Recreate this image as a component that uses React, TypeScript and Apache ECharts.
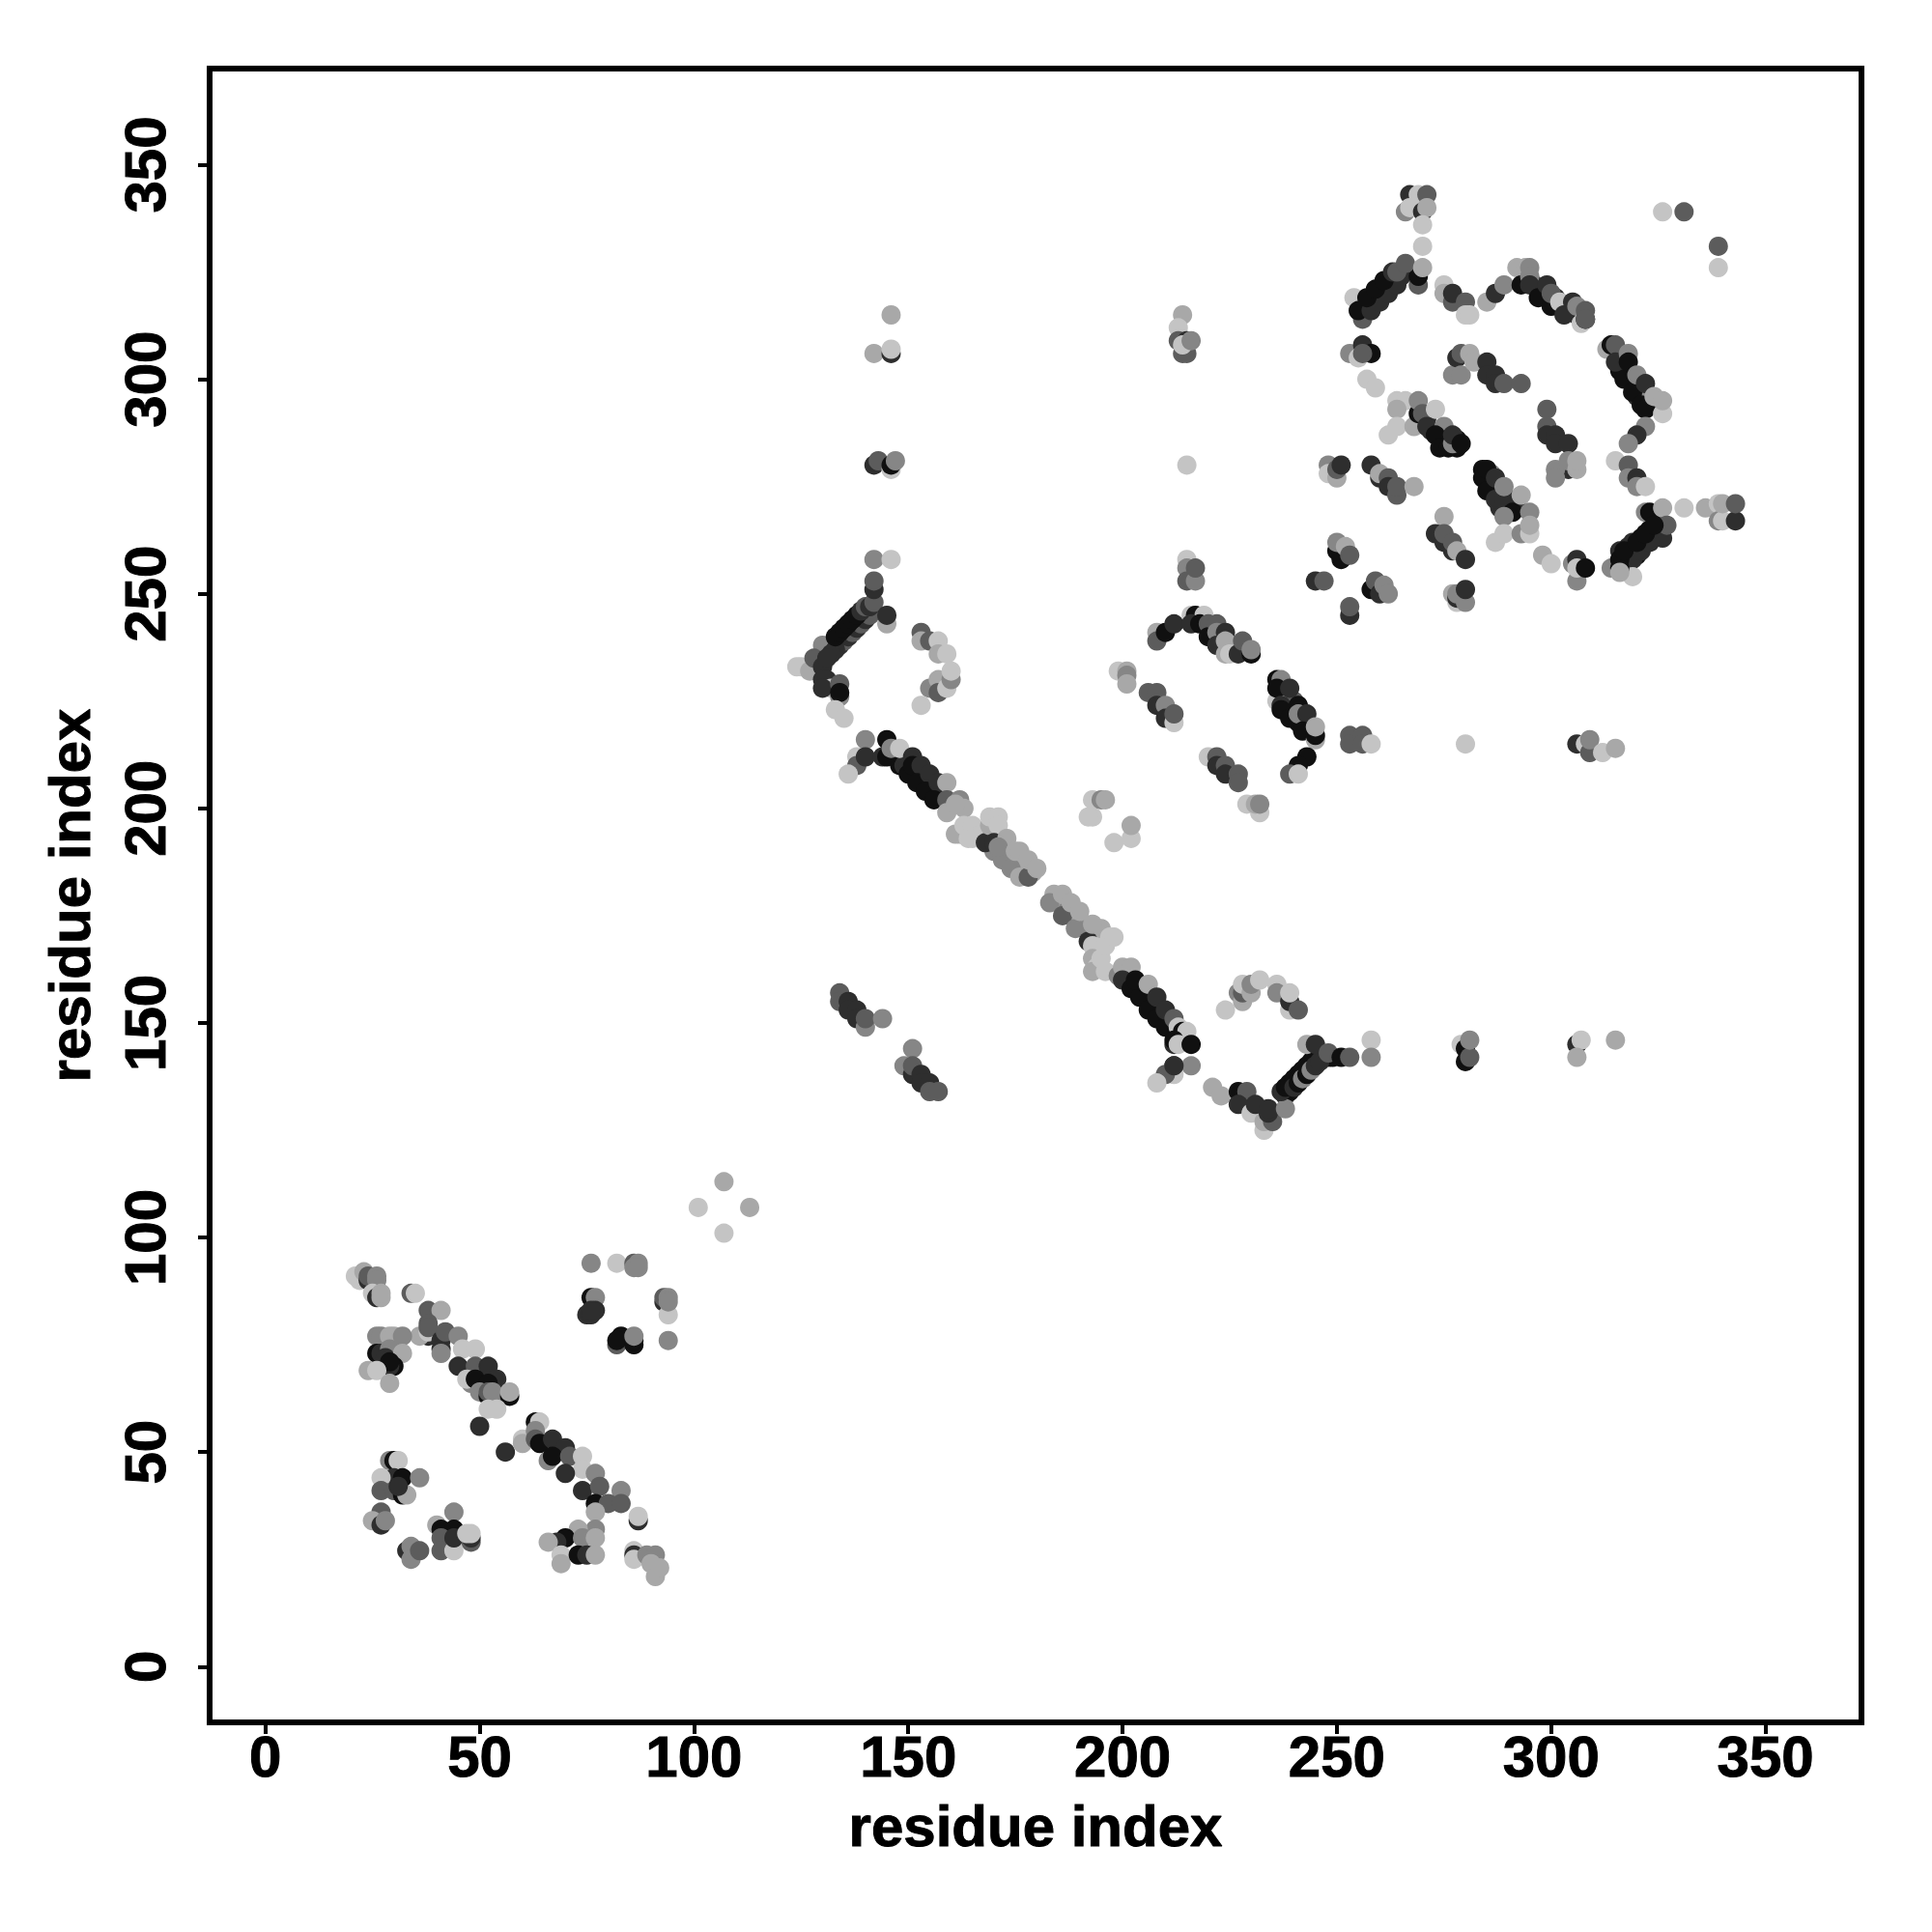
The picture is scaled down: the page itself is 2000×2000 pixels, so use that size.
import React, { useEffect, useRef } from "react";
import * as echarts from "echarts";

// tone codes of each contact: 0 darkest ... 5 lightest
const B = 0, K = 1, D = 2, G = 3, M = 4, L = 5;
const tones = ["#101010", "#2e2e2e", "#5c5c5c", "#868686", "#a8a8a8", "#c4c4c4"];
const tickLabels = [0, 50, 100, 150, 200, 250, 300, 350];
const axisTitle = "residue index";

type P = [number, number, number];

const bandFill: P[] = [
  [132,238,K],[133,239,B],[134,240,K],[135,241,B],[136,242,K],[137,243,B],[138,244,K],[139,245,B],[140,246,K],[141,246,B],[131,237,K],
  [294,324,K],[296,322,K],[298,320,K],[299,320,G],[301,319,K],[303,317,D],[304,316,B],[306,315,K],[307,315,B],
  [316,306,K],[316,302,B],[318,302,K],[318,300,K],[320,298,B],[320,296,K],[322,296,D],[323,294,K],[323,296,G],
  [147,212,K],[148,210,B],[149,210,K],[150,210,K],[152,208,K],[153,208,B],[154,206,K],[155,206,B],[156,204,K],[157,204,K],[158,203,B],
  [170,190,G],[172,188,G],[173,190,M],[174,188,M],[177,187,M],[179,185,M],
  [184,180,M],[185,178,M],[187,176,G],[188,175,G],[190,174,M],[191,172,M],[192,172,G],[194,171,L],[195,170,L],[195,172,M],
  [201,161,K],[203,158,K],[205,156,K],[205,158,K],[207,155,B],[209,153,K],[211,151,B],[207,154,D],[209,151,D],
  [238,133,K],[239,134,B],[240,136,B],[241,137,B],[242,138,B],[243,139,B],[244,140,B],[245,141,K],[246,143,K],[247,142,K],[248,142,K],[249,142,B],
  [238,226,K],[238,228,D],[240,222,K],[240,225,D],[242,220,B],[243,219,K],[244,218,K],
  [286,276,B],[286,274,K],[288,273,B],[288,270,K],[290,270,B],[290,272,K],[292,270,K],[284,279,B],[286,278,G],
  [318,259,B],[318,261,K],[319,262,K],[321,263,B],[323,265,B],[325,264,K],[320,259,B],[316,260,K],
  [271,291,K],[272,288,K],[274,287,K],[275,286,B],[276,286,K],[278,286,B],[278,284,B],
  [260,320,B],[262,322,B],[263,322,K],[265,324,K],[259,318,K],[261,320,K],[258,318,B],[256,316,B],[257,316,K],
];

const isolated: P[] = [
  [107,113,M],[101,107,L],[113,107,M],[107,101,L],
  [76,94,G],[82,94,L],[86,94,D],[87,94,G],[86,93,G],[87,93,G],
  [76,86,B],[77,86,G],[75,82,K],[77,83,K],[76,82,K],[76,83,K],
  [93,85,K],[93,86,D],[94,86,G],[94,82,L],[94,85,G],
  [82,75,D],[83,77,B],[82,76,B],[86,75,B],[86,76,B],[86,77,G],[94,76,G],
];

const lowerLeftTop: P[] = [
  [21,91,L],[22,90,L],[23,92,M],[24,90,K],[24,91,D],[26,91,G],[26,90,G],[25,87,L],[26,86,K],[27,86,M],[27,87,M],
  [34,87,D],[35,87,L],
];

const diagonalUpper: P[] = [
  [38,83,D],[41,83,M],[38,80,D],[38,77,K],[36,77,M],[38,78,L],[38,79,D],
  [41,76,K],[41,74,K],[42,78,D],[41,73,G],[45,77,G],[46,74,L],[49,74,L],
  [45,70,K],[49,70,D],[52,70,K],[48,66,G],[47,67,L],[49,67,B],[54,67,K],[52,66,B],[50,64,G],[52,63,B],[54,63,G],[52,64,D],[53,64,G],[57,63,B],[57,64,M],
  [52,60,L],[54,60,L],[50,56,K],[56,50,K],
];

const leftLadder: P[] = [
  [26,77,G],[27,77,G],[29,77,M],[30,77,M],[32,77,G],
  [26,73,B],[27,73,K],[29,74,G],[28,72,K],[32,73,M],[30,70,B],[29,70,K],[29,71,B],
  [24,69,M],[26,69,L],[29,66,M],
];

const lowerCluster: P[] = [
  [29,48,G],[30,48,B],[31,48,L],[30,44,K],[32,44,B],[27,44,L],[36,44,G],
  [27,41,D],[30,41,D],[32,40,B],[33,40,M],[31,42,K],
  [27,36,D],[25,34,M],[27,33,K],[28,34,G],
  [33,27,K],[34,28,G],[34,25,G],[36,27,D],
  [44,36,G],[40,33,M],[41,32,B],[44,32,B],[41,30,D],[41,27,D],[44,27,L],[44,30,K],[48,29,D],[48,30,K],[47,31,L],[48,31,L],
];

const diagonalLower: P[] = [
  [60,53,L],[60,52,M],[63,57,B],[64,57,L],[63,55,G],[63,53,D],[64,52,B],[67,53,K],[70,51,K],
  [66,48,G],[67,49,B],[71,49,D],[74,49,L],[74,46,L],[70,45,K],[77,45,G],[74,41,K],[78,42,D],[83,41,G],
  [77,38,B],[80,38,D],[83,38,D],[77,36,M],[87,34,K],[87,35,L],
  [77,32,G],[73,32,M],[70,30,B],[68,29,K],[66,29,M],[74,30,G],[77,30,M],
  [69,26,L],[69,24,M],[73,26,B],[75,26,K],[77,26,M],
  [86,27,L],[86,26,K],[86,25,L],[89,26,G],[91,26,G],[90,24,M],[91,21,M],[92,23,M],
];

const ladderA: P[] = [
  [130,238,G],[125,233,L],[124,233,L],[127,232,M],[128,235,D],[130,233,K],[130,230,K],[131,230,K],[132,228,L],[130,228,K],
  [134,229,D],[134,226,G],[134,227,B],[133,223,L],[135,221,L],
  [134,238,K],[135,239,D],[136,240,K],[137,241,D],[138,242,K],[139,243,D],[140,244,K],[141,245,D],
  [133,237,K],[132,236,K],[131,235,K],[133,240,B],[134,241,B],[135,242,B],[136,243,B],[137,244,B],[138,245,B],[139,246,K],[140,247,D],
  [141,247,K],[142,248,D],[142,251,K],[142,253,D],[145,243,M],[145,245,K],
  [142,258,G],[146,258,L],
  [153,241,D],[153,239,M],[155,239,D],[157,239,L],[157,236,M],[159,236,L],
  [155,228,G],[157,230,M],[157,227,D],[159,228,L],[160,230,G],[160,232,L],[153,224,L],
];

const columnA: P[] = [
  [146,315,M],[142,306,M],[146,306,K],[146,307,L],
  [142,280,K],[143,281,D],[146,279,L],[146,280,B],[147,281,G],
];

const beltLeft: P[] = [
  [140,216,G],[138,212,L],[138,210,D],[140,212,K],[136,208,L],
  [144,212,K],[145,216,B],[145,212,B],[146,214,G],[148,214,L],
  [150,208,B],[151,212,K],[151,210,B],[153,210,K],[152,206,B],[155,208,K],[154,204,B],[157,206,K],[156,202,B],[159,206,M],[159,202,D],[162,202,G],[159,199,M],[163,200,M],
];

const beltCentre: P[] = [
  [161,201,M],[162,194,M],[161,194,M],[163,196,L],[164,193,L],[165,196,L],[165,193,L],[167,194,L],
  [168,192,K],[169,196,M],[169,198,L],[171,198,L],[171,196,L],[170,192,K],[172,189,G],[173,193,M],
  [171,191,G],[174,186,G],[175,190,M],[176,184,M],[176,190,M],[178,184,D],[178,188,M],[180,186,M],
  [183,178,G],[186,175,D],[189,172,G],[186,180,M],[188,178,M],[190,176,M],[192,169,K],[193,173,M],[193,168,L],
  [193,165,M],[194,163,L],[193,162,M],[195,165,L],[196,162,L],[197,170,L],[196,168,L],[198,170,L],
];

const beltRight: P[] = [
  [199,161,G],[200,163,M],[202,163,M],[200,160,K],[202,158,B],[204,156,B],[206,153,B],[208,151,B],[210,149,B],
  [203,160,B],[206,159,M],[208,156,K],[210,153,K],[212,151,D],[213,149,L],[214,148,B],[215,148,L],
  [212,145,K],[212,146,B],[213,145,L],[216,145,B],
  [212,140,K],[216,140,G],[212,138,L],[210,138,D],[208,136,L],[212,140,K],
];

const upperIslands: P[] = [
  [193,198,L],[193,202,L],[195,202,G],[196,202,M],[192,198,L],[198,192,L],[202,193,L],[202,196,M],
  [199,232,L],[201,232,M],[201,231,G],[201,229,M],
  [134,157,D],[134,155,D],[136,155,K],[136,153,K],[138,153,K],[138,151,K],[140,149,G],[140,151,D],[144,151,G],
  [151,144,G],[149,140,G],[151,138,K],[151,140,D],[153,138,K],[153,136,K],[155,136,K],[155,134,D],[157,134,D],
];

const lowerArc: P[] = [
  [221,135,M],[223,133,M],[227,134,B],[229,134,D],[227,131,K],[230,129,L],[231,131,K],[233,125,L],[233,127,M],
  [235,127,D],[234,129,K],[234,130,K],[238,130,G],[237,134,K],
  [238,135,B],[239,136,B],[240,137,B],[241,138,B],[242,139,B],[243,140,B],[244,141,B],
  [240,135,K],[241,136,B],[242,137,G],[243,138,B],[244,139,G],[245,140,K],[246,141,K],
  [243,145,M],[245,145,K],[248,143,D],[251,142,B],[253,142,D],[258,146,L],[258,142,G],
  [224,153,L],[227,157,G],[228,155,M],[228,157,D],[228,159,L],[230,157,M],[230,159,G],[232,160,L],
  [236,159,L],[236,157,G],[239,153,L],[239,155,K],[239,157,L],[241,153,D],
];

const rowContacts: P[] = [
  [279,145,L],[280,141,B],[280,144,B],[281,142,D],[281,146,G],
  [306,145,K],[307,146,L],[306,142,M],[315,146,M],
  [253,217,D],[253,215,D],[256,217,D],[256,215,D],[258,215,L],[280,215,L],
  [306,215,K],[308,215,L],[309,213,D],[309,216,G],[312,213,L],[315,214,M],
];

const columnB: P[] = [
  [214,315,M],[213,312,L],[213,309,D],[214,306,D],[215,306,D],[215,309,K],[214,308,L],[216,309,G],[215,280,L],
  [215,258,L],[215,256,G],[215,253,D],[217,253,G],[217,256,D],
];

const blockThree: P[] = [
  [208,241,M],[208,239,D],[210,241,B],[212,243,K],
  [216,245,L],[217,245,B],[219,245,L],[216,243,K],[218,243,B],[220,243,D],[220,240,B],[222,243,D],[222,241,G],[222,238,K],
  [224,241,K],[224,239,M],[224,236,M],[225,236,L],[227,236,K],[228,239,D],[230,236,B],[230,237,G],
  [206,227,D],[208,227,D],[208,224,K],[210,224,G],[210,221,K],[212,220,L],[212,222,D],
  [220,212,L],[222,212,D],[222,210,K],[224,210,D],[224,208,K],[227,208,D],[227,206,D],
  [229,201,L],[232,199,L],[231,201,M],[232,201,G],
  [236,225,L],[236,230,B],[237,230,G],[236,228,B],[237,224,K],[237,223,B],[239,228,K],[239,221,B],[241,224,B],[241,220,B],[241,222,G],[243,222,K],
  [242,218,B],[245,216,M],[245,217,B],[245,219,M],[243,212,B],[241,210,B],[239,208,D],[241,208,L],
];

const crownTop: P[] = [
  [267,343,K],[269,343,L],[271,343,D],[266,339,G],[267,340,L],[270,339,K],[271,340,M],[270,336,L],[270,331,L],
  [254,319,L],[255,316,M],[256,314,D],[255,316,B],[269,322,D],[269,324,B],
  [258,316,K],[260,318,K],[262,320,K],[264,322,K],[257,319,B],[259,321,B],[261,323,B],[263,325,K],[264,325,D],[266,327,D],[270,326,M],
  [275,322,L],[275,320,M],[277,318,D],[277,320,K],[280,318,D],[280,315,L],[281,315,L],
  [285,318,M],[287,320,K],[289,322,G],[292,326,M],[294,326,M],[295,326,G],[293,322,B],[295,324,G],[295,322,K],
  [297,319,B],[299,322,K],[300,317,B],[300,320,D],[302,318,L],[303,315,K],[305,318,K],[306,317,G],[307,313,L],[308,314,B],[308,316,D],[308,314,D],
  [326,339,L],[331,339,D],[339,331,D],[339,326,L],
];

const crownRight: P[] = [
  [313,307,M],[314,308,B],[315,308,D],[315,304,K],[317,300,B],[318,306,G],[318,304,B],[319,297,B],[320,301,G],[321,294,B],[322,293,B],[322,299,K],
  [326,292,L],[324,296,M],[326,295,M],[322,289,G],[320,287,K],[318,285,G],
  [315,281,L],[318,280,D],[318,277,G],[320,277,K],[320,275,G],[322,275,L],
  [322,269,G],[323,269,B],[326,263,K],[319,258,K],[321,260,K],[323,262,K],[325,266,K],[326,270,M],[327,266,D],
  [314,256,G],[319,254,L],[316,256,B],[316,258,B],[316,255,M],[317,260,B],[320,262,B],[322,264,B],[324,266,B],
  [331,270,L],[336,270,M],[339,271,L],[339,267,G],[340,267,L],[340,271,M],[343,267,K],[343,271,D],
];

const crownInner: P[] = [
  [253,306,G],[256,308,K],[258,306,B],[255,305,L],[256,306,D],[257,300,L],[259,298,L],
  [277,301,G],[278,305,K],[279,301,G],[279,306,D],[281,306,M],[282,304,M],[285,304,K],[285,301,K],[287,301,K],[287,299,K],[289,299,D],[293,299,D],
  [264,295,L],[266,295,L],[264,293,M],[264,289,L],[262,287,L],[268,289,M],[269,292,B],[269,295,G],[270,292,D],[273,293,L],[271,289,K],[275,289,G],
  [273,287,B],[274,284,B],[276,284,B],[277,285,G],[277,287,K],[279,285,B],
  [299,293,D],[299,289,D],[299,287,K],[301,287,K],[301,285,K],[304,285,K],[304,279,K],[301,279,G],[301,277,G],[304,281,G],[306,279,M],[306,281,M],
];

const crownLower: P[] = [
  [248,280,G],[248,278,L],[250,277,M],[250,279,D],[251,280,K],
  [258,280,K],[260,277,K],[260,278,M],[262,277,D],[262,275,K],[264,273,D],[264,275,D],[268,275,M],
  [275,268,M],[273,264,K],[275,262,K],[275,264,D],[277,260,K],[277,262,D],[278,260,M],[280,258,K],
  [284,277,B],[285,279,B],[285,274,B],[287,277,K],[287,272,K],[289,272,K],[289,275,G],[291,269,B],[293,273,M],[295,269,G],[289,268,G],
  [287,262,L],[289,264,L],[293,264,G],[295,264,L],[295,266,M],[298,259,M],[300,257,L],
  [305,257,G],[306,258,K],[306,253,G],[306,256,L],[308,256,B],
  [250,260,B],[251,258,B],[250,262,G],[252,261,M],[253,259,D],
  [245,253,K],[247,253,D],[258,251,B],[259,253,D],[260,250,K],[261,252,G],[262,250,G],
  [253,245,K],[253,247,D],[277,250,M],[278,248,L],[278,249,K],[278,250,G],[280,248,G],[280,251,K],
];

const contacts: P[] = [
  ...bandFill, ...isolated, ...lowerLeftTop, ...diagonalUpper, ...leftLadder, ...lowerCluster, ...diagonalLower,
  ...ladderA, ...columnA, ...beltLeft, ...beltCentre, ...beltRight, ...upperIslands, ...lowerArc,
  ...rowContacts, ...columnB, ...blockThree, ...crownTop, ...crownRight, ...crownInner, ...crownLower,
];

const fontFamily = "Liberation Sans";

function axis(nameGap: number, labelMargin: number, rotate: number) {
  return {
    type: "value" as const,
    min: -13,
    max: 372.4,
    name: axisTitle,
    nameLocation: "middle" as const,
    nameGap,
    nameRotate: rotate,
    nameTextStyle: {
      color: "#000",
      fontFamily,
      fontWeight: "bold" as const,
      fontSize: 60,
      textBorderColor: "#000",
      textBorderWidth: 1,
    },
    axisLine: { show: false, onZero: false },
    splitLine: { show: false },
    axisTick: {
      show: true,
      length: 12,
      lineStyle: { color: "#000", width: 4 },
      customValues: tickLabels,
    },
    axisLabel: {
      show: true,
      rotate,
      margin: labelMargin,
      color: "#000",
      fontFamily,
      fontWeight: "bold" as const,
      fontSize: 60,
      textBorderColor: "#000",
      textBorderWidth: 1,
      customValues: tickLabels,
      formatter: (v: number) => String(v),
    },
  };
}

export default function App() {
  const ref = useRef<HTMLDivElement>(null);
  useEffect(() => {
    const chart = echarts.init(ref.current!, undefined, { renderer: "svg" });
    chart.setOption({
      animation: false,
      backgroundColor: "#fff",
      grid: {
        left: 217,
        right: 73,
        top: 71,
        bottom: 217,
        show: true,
        borderColor: "#000",
        borderWidth: 6,
        backgroundColor: "transparent",
        z: 10,
      },
      xAxis: axis(77, 5, 0),
      yAxis: axis(115, 37, 90),
      series: [
        {
          type: "scatter",
          symbol: "circle",
          symbolSize: 20,
          data: contacts,
          encode: { x: 0, y: 1 },
          itemStyle: {
            opacity: 1,
            color: (p: { value: P }) => tones[p.value[2]],
          },
        },
      ],
    });
    return () => chart.dispose();
  }, []);
  return (
    <div
      ref={ref}
      style={{ position: "absolute", left: 0, top: 0, width: 2000, height: 2000, background: "#fff" }}
    />
  );
}
